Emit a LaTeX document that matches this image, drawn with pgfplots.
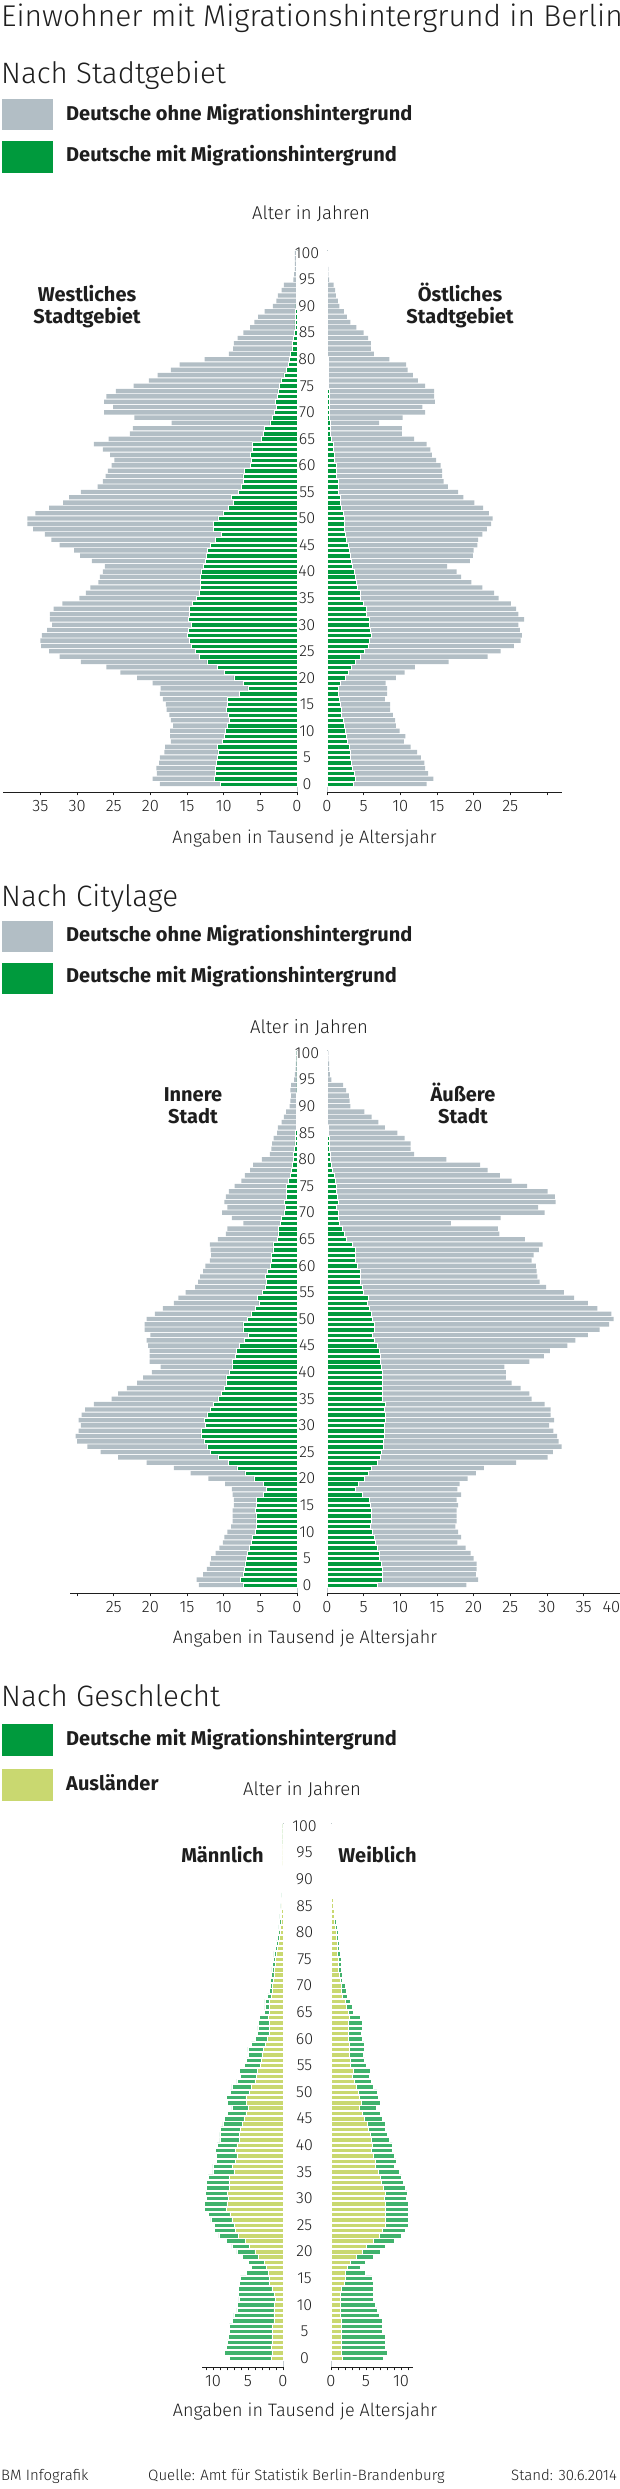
\documentclass[border=0pt]{standalone}
\usepackage{fontspec}
\setmainfont{Fira Sans}[UprightFont=* Light, BoldFont=* Bold]
\usepackage{pgfplots}
\pgfplotsset{compat=1.18}
\usepackage{pgfplotstable}
\newcommand\fs[1]{\fontsize{#1}{#1}\selectfont}
\definecolor{cgrey}{RGB}{178,190,197}
\definecolor{cgreen}{RGB}{0,154,61}
\definecolor{cgreenb}{RGB}{64,178,108}
\definecolor{cyellow}{RGB}{201,216,112}
\definecolor{ctext}{RGB}{30,30,30}
\definecolor{czero}{RGB}{196,204,208}

% Stadtgebiet West: age, total (grey end), mit Migrationshintergrund (green)
\pgfplotstableread[row sep=\\]{
a t m\\
0 18.7 10.5\\ 1 19.7 11.3\\ 2 19.1 11.1\\ 3 19.2 11.1\\ 4 18.8 11.0\\ 5 18.7 10.9\\ 6 18.1 10.8\\ 7 18.0 10.9\\ 8 17.2 10.2\\ 9 17.3 9.9\\
10 17.3 9.8\\ 11 16.9 9.5\\ 12 17.2 9.2\\ 13 17.4 9.4\\ 14 17.8 9.6\\ 15 17.9 9.5\\ 16 18.3 9.5\\ 17 18.7 7.9\\ 18 18.6 6.7\\ 19 19.7 7.3\\
20 21.8 8.6\\ 21 24.1 9.9\\ 22 26.0 10.9\\ 23 29.5 12.3\\ 24 32.4 13.3\\ 25 33.8 13.9\\ 26 34.9 14.4\\ 27 35.0 14.7\\ 28 34.8 15.0\\ 29 34.1 14.8\\
30 33.4 14.4\\ 31 33.7 14.8\\ 32 33.7 14.7\\ 33 33.2 14.7\\ 34 32.0 14.3\\ 35 29.7 13.7\\ 36 28.8 13.3\\ 37 28.2 13.2\\ 38 27.1 13.2\\ 39 26.9 13.2\\
40 26.5 13.1\\ 41 26.2 12.8\\ 42 28.0 12.5\\ 43 29.6 12.4\\ 44 30.4 12.2\\ 45 32.4 11.8\\ 46 33.5 11.1\\ 47 34.4 10.3\\ 48 36.0 11.4\\ 49 36.8 11.4\\
50 36.8 10.8\\ 51 35.7 10.1\\ 52 33.8 9.4\\ 53 31.9 8.7\\ 54 31.1 9.0\\ 55 29.5 8.0\\ 56 27.2 7.6\\ 57 26.5 7.3\\ 58 26.1 7.4\\ 59 25.8 7.2\\
60 25.3 6.4\\ 61 24.9 6.2\\ 62 25.5 6.4\\ 63 26.5 6.1\\ 64 27.7 6.1\\ 65 25.7 4.9\\ 66 22.8 4.6\\ 67 22.4 4.4\\ 68 17.1 3.7\\ 69 22.2 3.4\\
70 26.3 3.1\\ 71 25.1 2.8\\ 72 26.3 3.0\\ 73 26.0 2.7\\ 74 24.7 2.6\\ 75 22.3 2.4\\ 76 20.2 2.2\\ 77 19.0 1.8\\ 78 17.2 1.5\\ 79 16.0 1.2\\
80 12.6 1.0\\ 81 9.3 0.9\\ 82 8.7 0.7\\ 83 8.6 0.6\\ 84 8.1 0.5\\ 85 7.3 0.4\\ 86 6.4 0.3\\ 87 5.8 0.3\\ 88 5.3 0.2\\ 89 4.4 0.2\\
90 3.3 0.15\\ 91 2.8 0.1\\ 92 2.6 0.1\\ 93 2.1 0.05\\ 94 1.8 0.05\\ 95 0.5 0.05\\ 96 0.4 0.05\\ 97 0.3 0.05\\ 98 0.3 0.05\\ 99 0.3 0.05\\ 100 0.3 0.05\\
}\WL
% Stadtgebiet Ost
\pgfplotstableread[row sep=\\]{
a t m\\
0 13.6 3.6\\ 1 14.5 3.9\\ 2 13.8 3.7\\ 3 13.4 3.5\\ 4 13.3 3.3\\ 5 12.8 3.2\\ 6 12.3 3.2\\ 7 11.4 3.0\\ 8 10.5 2.8\\ 9 10.7 2.6\\
10 9.9 2.5\\ 11 9.4 2.3\\ 12 9.3 2.2\\ 13 9.0 2.0\\ 14 8.6 1.9\\ 15 8.6 1.8\\ 16 7.9 1.7\\ 17 8.2 1.6\\ 18 8.2 1.5\\ 19 8.0 1.8\\
20 9.4 2.5\\ 21 10.6 2.9\\ 22 12.0 3.3\\ 23 16.6 3.9\\ 24 21.9 4.6\\ 25 23.7 5.1\\ 26 25.5 5.6\\ 27 26.4 5.8\\ 28 26.6 6.0\\ 29 26.3 5.9\\
30 26.1 5.8\\ 31 26.9 5.7\\ 32 26.1 5.4\\ 33 25.8 5.3\\ 34 25.1 5.0\\ 35 23.4 4.6\\ 36 22.8 4.6\\ 37 21.2 4.1\\ 38 19.7 4.0\\ 39 18.3 3.9\\
40 17.7 3.7\\ 41 16.4 3.4\\ 42 19.5 3.3\\ 43 19.9 3.2\\ 44 20.0 3.1\\ 45 20.5 2.9\\ 46 20.6 2.6\\ 47 21.2 2.5\\ 48 21.8 2.4\\ 49 22.4 2.3\\
50 22.6 2.3\\ 51 22.1 2.2\\ 52 21.3 2.0\\ 53 20.1 1.8\\ 54 18.6 1.8\\ 55 17.9 1.6\\ 56 16.5 1.6\\ 57 15.9 1.5\\ 58 15.7 1.3\\ 59 15.7 1.3\\
60 15.5 1.2\\ 61 14.9 1.0\\ 62 14.3 1.0\\ 63 14.1 0.9\\ 64 13.6 0.8\\ 65 11.9 0.6\\ 66 10.2 0.5\\ 67 10.2 0.5\\ 68 7.1 0.4\\ 69 10.3 0.3\\
70 13.4 0.3\\ 71 13.0 0.25\\ 72 14.7 0.25\\ 73 14.6 0.25\\ 74 14.6 0.25\\ 75 13.4 0.2\\ 76 12.4 0.2\\ 77 11.7 0.2\\ 78 11.0 0.2\\ 79 10.8 0.15\\
80 8.5 0.12\\ 81 6.4 0.1\\ 82 6.0 0.1\\ 83 6.0 0.1\\ 84 5.6 0.1\\ 85 5.0 0.08\\ 86 4.0 0.07\\ 87 3.2 0.06\\ 88 2.7 0.05\\ 89 2.3 0.05\\
90 1.7 0.05\\ 91 1.5 0.04\\ 92 1.2 0.03\\ 93 1.1 0.03\\ 94 0.9 0.03\\ 95 0.3 0.02\\ 96 0.2 0.02\\ 97 0.2 0.02\\ 98 0.1 0.02\\ 99 0.1 0.02\\ 100 0.1 0.02\\
}\WR
% Citylage innen
\pgfplotstableread[row sep=\\]{
a t m\\
0 13.4 7.4\\ 1 13.7 7.7\\ 2 12.8 7.4\\ 3 12.3 7.2\\ 4 11.9 7.1\\ 5 11.7 6.9\\ 6 11.1 6.8\\ 7 10.6 6.5\\ 8 10.1 6.2\\ 9 9.9 6.1\\
10 9.5 5.7\\ 11 9.0 5.5\\ 12 8.8 5.6\\ 13 8.8 5.6\\ 14 8.8 5.7\\ 15 8.6 5.5\\ 16 8.6 5.5\\ 17 8.8 4.6\\ 18 8.9 4.2\\ 19 9.8 4.6\\
20 12.1 5.9\\ 21 14.5 7.1\\ 22 16.8 8.2\\ 23 20.5 9.4\\ 24 24.4 10.8\\ 25 26.8 11.8\\ 26 28.6 12.3\\ 27 30.0 12.7\\ 28 30.2 13.1\\ 29 29.8 13.0\\
30 29.5 12.5\\ 31 29.8 12.6\\ 32 29.4 12.3\\ 33 28.9 11.8\\ 34 27.7 11.4\\ 35 25.3 10.8\\ 36 24.4 10.3\\ 37 23.2 9.9\\ 38 21.8 9.7\\ 39 21.0 9.7\\
40 19.8 9.3\\ 41 18.6 8.9\\ 42 20.1 8.8\\ 43 20.1 8.4\\ 44 20.1 8.3\\ 45 20.3 7.9\\ 46 20.5 7.2\\ 47 20.0 6.7\\ 48 20.8 7.4\\ 49 20.8 7.4\\
50 20.5 6.8\\ 51 19.4 6.3\\ 52 18.3 5.7\\ 53 16.8 5.2\\ 54 16.2 5.4\\ 55 15.2 4.8\\ 56 13.9 4.4\\ 57 13.5 4.2\\ 58 13.2 4.3\\ 59 12.8 4.0\\
60 12.5 3.6\\ 61 11.9 3.5\\ 62 11.7 3.5\\ 63 11.8 3.3\\ 64 11.9 3.3\\ 65 10.8 2.7\\ 66 9.7 2.6\\ 67 9.5 2.5\\ 68 7.3 2.3\\ 69 8.9 2.1\\
70 10.2 1.8\\ 71 9.5 1.6\\ 72 9.9 1.7\\ 73 9.7 1.5\\ 74 9.3 1.5\\ 75 8.5 1.4\\ 76 7.6 1.2\\ 77 7.1 0.9\\ 78 6.4 0.8\\ 79 6.0 0.65\\
80 4.8 0.5\\ 81 3.7 0.5\\ 82 3.5 0.4\\ 83 3.4 0.3\\ 84 3.2 0.2\\ 85 2.7 0.2\\ 86 2.6 0.1\\ 87 2.1 0.1\\ 88 1.8 0.1\\ 89 1.5 0.05\\
90 1.0 0.05\\ 91 0.9 0.04\\ 92 0.8 0.04\\ 93 0.9 0.03\\ 94 0.8 0.03\\ 95 0.4 0.03\\ 96 0.3 0.02\\ 97 0.2 0.02\\ 98 0.15 0.02\\ 99 0.1 0.02\\ 100 0.1 0.02\\
}\CL
% Citylage aussen
\pgfplotstableread[row sep=\\]{
a t m\\
0 19.0 6.9\\ 1 20.6 7.6\\ 2 20.3 7.5\\ 3 20.4 7.5\\ 4 20.4 7.4\\ 5 20.0 7.1\\ 6 19.6 7.1\\ 7 18.9 6.8\\ 8 17.8 6.6\\ 9 18.3 6.4\\
10 17.9 6.2\\ 11 17.5 5.9\\ 12 17.7 6.0\\ 13 17.7 6.0\\ 14 17.7 6.0\\ 15 17.9 5.9\\ 16 17.7 5.7\\ 17 18.3 4.8\\ 18 17.8 3.9\\ 19 18.1 4.3\\
20 19.2 5.1\\ 21 20.3 5.6\\ 22 21.4 6.1\\ 23 25.8 6.8\\ 24 30.1 7.2\\ 25 30.8 7.4\\ 26 32.0 7.7\\ 27 31.6 7.7\\ 28 31.4 7.8\\ 29 30.9 7.8\\
30 30.3 7.8\\ 31 31.0 8.0\\ 32 30.5 7.9\\ 33 30.5 7.8\\ 34 29.7 7.9\\ 35 27.9 7.6\\ 36 27.6 7.6\\ 37 26.4 7.6\\ 38 25.2 7.6\\ 39 24.4 7.5\\
40 24.4 7.6\\ 41 24.2 7.4\\ 42 27.6 7.3\\ 43 29.6 7.2\\ 44 30.4 7.1\\ 45 32.8 6.9\\ 46 33.9 6.5\\ 47 35.6 6.2\\ 48 37.2 6.5\\ 49 38.5 6.4\\
50 39.1 6.2\\ 51 38.8 6.1\\ 52 36.9 5.7\\ 53 35.6 5.5\\ 54 33.7 5.6\\ 55 32.3 4.9\\ 56 29.9 4.8\\ 57 29.0 4.6\\ 58 28.7 4.6\\ 59 28.6 4.5\\
60 28.5 4.1\\ 61 27.9 3.9\\ 62 28.2 3.9\\ 63 28.9 3.8\\ 64 29.4 3.5\\ 65 27.0 2.6\\ 66 23.5 2.4\\ 67 23.3 2.1\\ 68 16.9 1.7\\ 69 23.7 1.6\\
70 29.7 1.5\\ 71 28.8 1.3\\ 72 31.2 1.5\\ 73 31.1 1.35\\ 74 30.1 1.3\\ 75 27.3 1.3\\ 76 25.2 1.1\\ 77 23.6 1.0\\ 78 21.9 0.75\\ 79 20.9 0.6\\
80 16.3 0.5\\ 81 11.9 0.4\\ 82 11.4 0.35\\ 83 11.4 0.3\\ 84 10.6 0.3\\ 85 9.6 0.2\\ 86 7.9 0.15\\ 87 7.0 0.1\\ 88 6.1 0.1\\ 89 5.1 0.07\\
90 3.2 0.05\\ 91 3.1 0.04\\ 92 3.0 0.04\\ 93 2.6 0.03\\ 94 2.2 0.03\\ 95 0.6 0.02\\ 96 0.4 0.02\\ 97 0.3 0.02\\ 98 0.3 0.02\\ 99 0.2 0.02\\ 100 0.2 0.02\\
}\CR
% Geschlecht maennlich: t = Deutsche mit Migrationshintergrund (outer end), m = Auslaender (inner)
\pgfplotstableread[row sep=\\]{
a t m\\
0 7.7 1.7\\ 1 8.35 1.6\\ 2 8.1 1.65\\ 3 7.95 1.6\\ 4 7.8 1.6\\ 5 7.7 1.5\\ 6 7.7 1.5\\ 7 7.2 1.3\\ 8 7.0 1.3\\ 9 6.6 1.3\\
10 6.5 1.25\\ 11 6.3 1.1\\ 12 6.4 1.25\\ 13 6.4 1.6\\ 14 6.25 1.9\\ 15 6.1 2.0\\ 16 5.2 2.1\\ 17 4.5 2.4\\ 18 4.9 2.7\\ 19 5.85 3.5\\
20 6.6 4.0\\ 21 7.3 4.8\\ 22 8.1 5.4\\ 23 9.15 6.4\\ 24 9.8 6.8\\ 25 9.8 6.9\\ 26 10.3 7.3\\ 27 10.7 7.6\\ 28 11.2 8.1\\ 29 11.2 8.0\\
30 10.9 7.8\\ 31 11.1 7.95\\ 32 10.9 7.7\\ 33 10.9 7.7\\ 34 10.7 7.7\\ 35 10.0 7.0\\ 36 10.0 7.2\\ 37 9.5 6.8\\ 38 9.5 6.6\\ 39 9.7 6.8\\
40 9.4 6.6\\ 41 9.0 6.25\\ 42 9.0 6.25\\ 43 8.9 6.1\\ 44 8.6 5.85\\ 45 8.35 5.6\\ 46 7.9 5.3\\ 47 7.3 4.9\\ 48 7.9 5.2\\ 49 8.1 5.3\\
50 7.5 4.8\\ 51 7.3 4.5\\ 52 6.6 4.0\\ 53 6.1 3.8\\ 54 6.25 3.7\\ 55 5.5 3.2\\ 56 5.2 3.1\\ 57 4.9 3.0\\ 58 5.0 2.8\\ 59 4.5 2.5\\
60 3.9 2.2\\ 61 3.7 2.0\\ 62 3.6 2.0\\ 63 3.5 2.0\\ 64 3.4 2.1\\ 65 2.7 1.9\\ 66 2.6 1.9\\ 67 2.6 1.9\\ 68 2.2 1.7\\ 69 1.9 1.5\\
70 1.8 1.5\\ 71 1.8 1.4\\ 72 1.7 1.3\\ 73 1.6 1.25\\ 74 1.5 1.1\\ 75 1.4 1.1\\ 76 1.3 0.95\\ 77 1.1 0.8\\ 78 1.0 0.7\\ 79 0.8 0.55\\
80 0.7 0.45\\ 81 0.6 0.35\\ 82 0.5 0.3\\ 83 0.45 0.25\\ 84 0.35 0.2\\ 85 0.3 0.15\\ 86 0.2 0.1\\ 87 0.15 0.1\\ 88 0.12 0.06\\ 89 0.1 0.05\\
90 0.09 0.05\\ 91 0.08 0.04\\ 92 0.07 0.04\\ 93 0.06 0.03\\ 94 0.05 0.03\\ 95 0.05 0.03\\ 96 0.04 0.02\\ 97 0.03 0.02\\ 98 0.03 0.02\\ 99 0.02 0.01\\ 100 0.02 0.01\\
}\GL
% Geschlecht weiblich
\pgfplotstableread[row sep=\\]{
a t m\\
0 7.5 1.6\\ 1 8.0 1.5\\ 2 7.7 1.5\\ 3 7.7 1.5\\ 4 7.7 1.5\\ 5 7.3 1.5\\ 6 7.3 1.4\\ 7 7.3 1.4\\ 8 6.9 1.25\\ 9 6.6 1.25\\
10 6.25 1.25\\ 11 6.0 1.25\\ 12 6.0 1.25\\ 13 6.0 1.5\\ 14 6.0 1.9\\ 15 5.85 2.0\\ 16 4.9 2.1\\ 17 4.2 2.3\\ 18 4.9 2.8\\ 19 6.0 3.6\\
20 7.1 4.5\\ 21 7.8 5.1\\ 22 9.1 6.1\\ 23 10.0 6.9\\ 24 10.6 7.3\\ 25 11.1 7.7\\ 26 11.0 7.8\\ 27 11.1 7.8\\ 28 11.1 7.8\\ 29 11.1 7.8\\
30 10.8 7.6\\ 31 10.9 7.7\\ 32 10.6 7.4\\ 33 10.3 7.2\\ 34 10.1 7.0\\ 35 9.8 6.7\\ 36 9.1 6.3\\ 37 9.3 6.25\\ 38 9.0 6.1\\ 39 8.75 5.7\\
40 8.75 5.9\\ 41 8.35 5.7\\ 42 8.1 5.6\\ 43 7.8 5.3\\ 44 7.8 5.2\\ 45 7.3 4.8\\ 46 7.0 4.5\\ 47 6.5 4.1\\ 48 7.0 4.3\\ 49 6.7 4.0\\
50 6.6 3.9\\ 51 6.1 3.6\\ 52 5.7 3.3\\ 53 5.5 3.0\\ 54 5.6 3.2\\ 55 5.0 2.8\\ 56 4.8 2.7\\ 57 4.6 2.6\\ 58 4.7 2.6\\ 59 4.7 2.6\\
60 4.4 2.5\\ 61 4.3 2.4\\ 62 4.5 2.5\\ 63 4.5 2.4\\ 64 4.2 2.6\\ 65 3.2 2.4\\ 66 3.0 2.2\\ 67 2.8 2.0\\ 68 2.3 1.6\\ 69 2.2 1.5\\
70 2.0 1.5\\ 71 1.6 1.25\\ 72 1.6 1.2\\ 73 1.5 1.1\\ 74 1.5 1.1\\ 75 1.4 1.0\\ 76 1.3 0.95\\ 77 1.2 0.9\\ 78 1.15 0.85\\ 79 1.1 0.8\\
80 1.0 0.7\\ 81 0.9 0.6\\ 82 0.75 0.5\\ 83 0.65 0.45\\ 84 0.55 0.4\\ 85 0.45 0.35\\ 86 0.4 0.3\\ 87 0.3 0.2\\ 88 0.25 0.2\\ 89 0.2 0.15\\
90 0.17 0.12\\ 91 0.14 0.1\\ 92 0.12 0.08\\ 93 0.1 0.07\\ 94 0.08 0.05\\ 95 0.07 0.05\\ 96 0.06 0.04\\ 97 0.05 0.03\\ 98 0.04 0.03\\ 99 0.03 0.02\\ 100 0.03 0.02\\
}\GR

\pgfplotsset{
  pyr/.style={
    scale only axis, xbar, bar width=4.4pt, ymax=100.5,
    axis x line*=bottom, axis y line*=left,
    x axis line style={draw=ctext, line width=0.8pt, -},
    y axis line style={draw=none},
    xtick style={draw=ctext, line width=0.8pt},
    ytick style={draw=none},
    major tick length=3.5pt, minor tick length=0pt,
    tick align=outside,
    ytick=\empty,
    /pgf/number format/assume math mode=true,
    xticklabel style={font=\fs{16.5}, text=ctext, inner sep=0pt, yshift=-5pt},
    clip=false,
  },
  ages/.style={ytick={0,5,...,100},
    yticklabel style={anchor=center, font=\fs{16}, text=ctext, inner sep=0pt, xshift=#1}},
  greybar/.style={fill=cgrey, draw=none, bar shift=0pt},
  greenbar/.style={fill=cgreen, draw=white, line width=0.5pt, bar shift=0pt},
  gbar/.style={fill=cgreenb, draw=white, line width=0.5pt, bar shift=0pt},
  ybar3/.style={fill=cyellow, draw=white, line width=0.5pt, bar shift=0pt},
}
\newcommand\sect[1]{\fs{29.5}#1}
\newcommand\leg[1]{\fs{20}\bfseries #1}
\newcommand\lab[1]{\fs{20}\bfseries #1}

\begin{document}
\begin{tikzpicture}[x=1pt,y=1pt, every node/.style={text=ctext}]
\useasboundingbox (0,0) rectangle (620,2489);

% ---------------- Header
\node[anchor=base west, inner sep=0] at (1,2462) {\fs{30}Einwohner mit Migrationshintergrund in Berlin};

% ---------------- Chart 1: Stadtgebiet
\node[anchor=base west, inner sep=0] at (1,2405.7) {\sect{Nach Stadtgebiet}};
\fill[cgrey] (2,2359) rectangle (52.6,2389.7);
\fill[cgreen] (2,2316.3) rectangle (52.6,2348);
\node[anchor=base west, inner sep=0] at (66,2368.3) {\leg{Deutsche ohne Migrationshintergrund}};
\node[anchor=base west, inner sep=0] at (66,2327.3) {\leg{Deutsche mit Migrationshintergrund}};
\node[anchor=base, inner sep=0] at (311,2269.7) {\fs{18.5}Alter in Jahren};
\node[anchor=base, inner sep=0] at (87,2187.3) {\lab{Westliches}};
\node[anchor=base, inner sep=0] at (87,2165) {\lab{Stadtgebiet}};
\node[anchor=base, inner sep=0] at (460,2187.3) {\lab{Östliches}};
\node[anchor=base, inner sep=0] at (460,2165) {\lab{Stadtgebiet}};
\node[anchor=base, inner sep=0] at (304.5,1645) {\fs{18}Angaben in Tausend je Altersjahr};

\begin{axis}[pyr, at={(3pt,1697pt)}, anchor=south west, width=294pt, height=541.6pt,
  ymin=-1.5, xmin=0, xmax=40.11, x dir=reverse, xtick={0,5,...,35}]
  \draw[czero, line width=0.9pt] (axis cs:0,-1.5) -- (axis cs:0,100.5);
  \addplot[greybar] table[x=t,y=a] {\WL};
  \addplot[greenbar] table[x=m,y=a] {\WL};
\end{axis}
\begin{axis}[pyr, ages=-16.5pt, at={(327pt,1697pt)}, anchor=south west, width=235pt, height=541.6pt,
  ymin=-1.5, xmin=0, xmax=32.06, xtick={0,5,...,30}, xticklabels={0,5,10,15,20,25,}]
  \draw[czero, line width=0.9pt] (axis cs:0,-1.5) -- (axis cs:0,100.5);
  \addplot[greybar] table[x=t,y=a] {\WR};
  \addplot[greenbar] table[x=m,y=a] {\WR};
\end{axis}

% ---------------- Chart 2: Citylage
\node[anchor=base west, inner sep=0] at (1,1582.3) {\sect{Nach Citylage}};
\fill[cgrey] (2,1537.3) rectangle (52.6,1568);
\fill[cgreen] (2,1495) rectangle (52.6,1526.3);
\node[anchor=base west, inner sep=0] at (66,1547.3) {\leg{Deutsche ohne Migrationshintergrund}};
\node[anchor=base west, inner sep=0] at (66,1506.3) {\leg{Deutsche mit Migrationshintergrund}};
\node[anchor=base, inner sep=0] at (309,1455.7) {\fs{18.5}Alter in Jahren};
\node[anchor=base, inner sep=0] at (193,1387.3) {\lab{Innere}};
\node[anchor=base, inner sep=0] at (193,1365) {\lab{Stadt}};
\node[anchor=base, inner sep=0] at (463,1387.3) {\lab{Äußere}};
\node[anchor=base, inner sep=0] at (463,1365) {\lab{Stadt}};
\node[anchor=base, inner sep=0] at (305,845) {\fs{18}Angaben in Tausend je Altersjahr};

\begin{axis}[pyr, at={(70pt,896pt)}, anchor=south west, width=227pt, height=542.6pt,
  ymin=-1.5, xmin=0, xmax=30.97, x dir=reverse, xtick={0,5,...,30}, xticklabels={0,5,10,15,20,25,}]
  \draw[czero, line width=0.9pt] (axis cs:0,-1.5) -- (axis cs:0,100.5);
  \addplot[greybar] table[x=t,y=a] {\CL};
  \addplot[greenbar] table[x=m,y=a] {\CL};
\end{axis}
\begin{axis}[pyr, ages=-16.5pt, at={(327pt,896pt)}, anchor=south west, width=293.2pt, height=542.6pt,
  ymin=-1.5, xmin=0, xmax=40, xtick={0,5,...,40},
  xticklabels={0,5,10,15,20,25,30,35,\makebox[0pt][r]{40}}]
  \draw[czero, line width=0.9pt] (axis cs:0,-1.5) -- (axis cs:0,100.5);
  \addplot[greybar] table[x=t,y=a] {\CR};
  \addplot[greenbar] table[x=m,y=a] {\CR};
\end{axis}

% ---------------- Chart 3: Geschlecht
\node[anchor=base west, inner sep=0] at (1,782.3) {\sect{Nach Geschlecht}};
\fill[cgreen] (2,733.3) rectangle (52.6,764.7);
\fill[cyellow] (2,688.3) rectangle (52.6,719.7);
\node[anchor=base west, inner sep=0] at (66,743) {\leg{Deutsche mit Migrationshintergrund}};
\node[anchor=base west, inner sep=0] at (66,698) {\leg{Ausländer}};
\node[anchor=base, inner sep=0] at (302,693) {\fs{18.5}Alter in Jahren};
\node[anchor=base, inner sep=0] at (222.5,626.3) {\lab{Männlich}};
\node[anchor=base, inner sep=0] at (377.5,626.3) {\lab{Weiblich}};
\node[anchor=base, inner sep=0] at (305,72) {\fs{18}Angaben in Tausend je Altersjahr};

\begin{axis}[pyr, at={(202pt,122pt)}, anchor=south west, width=81pt, height=543.7pt,
  ymin=-1.7, xmin=0, xmax=11.57, x dir=reverse, xtick={0,...,11}, xticklabels={0,,,,,5,,,,,10,}]
  \draw[czero, line width=0.9pt] (axis cs:0,-1.7) -- (axis cs:0,100.5);
  \addplot[gbar] table[x=t,y=a] {\GL};
  \addplot[ybar3] table[x=m,y=a] {\GL};
\end{axis}
\begin{axis}[pyr, ages=-23pt, at={(331pt,122pt)}, anchor=south west, width=82pt, height=543.7pt,
  ymin=-1.7, xmin=0, xmax=11.71, xtick={0,...,11}, xticklabels={0,,,,,5,,,,,10,}]
  \draw[czero, line width=0.9pt] (axis cs:0,-1.7) -- (axis cs:0,100.5);
  \addplot[gbar] table[x=t,y=a] {\GR};
  \addplot[ybar3] table[x=m,y=a] {\GR};
\end{axis}

% ---------------- Footer
\node[anchor=base west, inner sep=0] at (1,9) {\fs{15}BM Infografik};
\node[anchor=base west, inner sep=0] at (148,9) {\fs{15}Quelle: Amt für Statistik Berlin-Brandenburg};
\node[anchor=base east, inner sep=0] at (617,9) {\fs{15}Stand: 30.6.2014};
\end{tikzpicture}
\end{document}
